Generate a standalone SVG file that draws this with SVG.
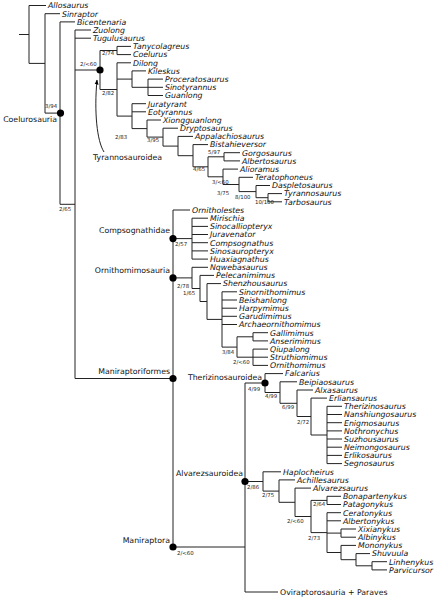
<svg xmlns="http://www.w3.org/2000/svg" width="441" height="599" viewBox="0 0 441 599">
<style>
.b{stroke:#222;stroke-width:1;fill:none}
.t{font-family:"DejaVu Sans",sans-serif;font-size:7.8px;font-style:italic;fill:#111}
.c{font-family:"DejaVu Sans",sans-serif;font-size:7.8px;fill:#111}
.s{font-family:"DejaVu Sans",sans-serif;font-size:5.4px;fill:#222}
.n{fill:#000}
</style>
<defs>
<marker id="ah" viewBox="0 0 10 10" refX="9" refY="5" markerWidth="5" markerHeight="5" orient="auto"><path d="M0,1 L10,5 L0,9 z" fill="#000"/></marker>
</defs>
<rect width="441" height="599" fill="#fff"/>
<g id="connectors" class="b">
<path d="M19 34.5H29M29 5.5V63.4M29 5.5H46M29 63.4H45M45 13.7V113.1M45 13.7H60M45 113.1H60M60 21.9V204.3M60 21.9H75M60 204.3H75M75 30V378.5M75 30H91M75 38.2H91M75 70H100M75 378.5H173"/>
<path d="M100 50.5V89.5M100 50.5H117M117 46.4V54.6M117 46.4H131M117 54.6H131M100 89.5H117M117 62.8V116.1M117 62.8H131M117 79.1H132M132 70.9V87.3M132 70.9H146M132 87.3H148M148 79.1V95.5M148 79.1H163M148 87.3H163M148 95.5H163"/>
<path d="M117 116.1H132M132 103.7V128.6M132 103.7H146M132 111.8H146M132 128.6H147M147 120V137.1M147 120H161M147 137.1H163M163 128.2V146.1M163 128.2H178M163 146.1H178M178 136.4V155.7M178 136.4H193M178 155.7H193M193 144.6V166.8M193 144.6H208M193 166.8H208M208 156.8V176.8M208 156.8H224M224 152.7V160.9M224 152.7H240M224 160.9H240M208 176.8H223M223 169.1V184.5M223 169.1H238M223 184.5H239M239 177.3V191.6M239 177.3H253M239 191.6H256M256 185.5V197.7M256 185.5H270M256 197.7H268M268 193.6V201.8M268 193.6H282M268 201.8H282"/>
<path d="M173 210V547M173 210H190M173 238.6H192M192 218.2V259.1M192 218.2H208M192 226.4H208M192 234.5H208M192 242.7H208M192 250.9H208M192 259.1H208"/>
<path d="M173 277.9H192M192 267.3V288.5M192 267.3H208M192 288.5H200M200 275.4V301.5M200 275.4H214M200 301.5H207M207 283.6V319.4M207 283.6H221M207 319.4H222M222 291.8V347.1M222 291.8H237M222 300H237M222 308.2H237M222 316.3H237M222 324.5H237M222 347.1H237M237 336.8V357.2M237 336.8H253M253 332.7V340.9M253 332.7H268M253 340.9H268M237 357.2H253M253 349.1V365.4M253 349.1H268M253 357.2H268M253 365.4H268"/>
<path d="M173 547H245M245 383V592M245 592H278M245 383H265M265 373.6V392.5M265 373.6H283M265 392.5H280M280 381.8V403.3M280 381.8H297M280 403.3H297M297 390V416.5M297 390H313M297 416.5H311M311 398.1V435M311 398.1H327M311 435H327M327 406.3V463.6M327 406.3H342M327 414.5H342M327 422.7H342M327 430.9H342M327 439H342M327 447.2H342M327 455.4H342M327 463.6H342"/>
<path d="M245 481.5H263M263 471.8V491.1M263 471.8H281M263 491.1H279M279 479.9V502.3M279 479.9H295M279 502.3H295M295 488.1V516.5M295 488.1H311M295 516.5H311M311 500.4V532.6M311 500.4H327M327 496.3V504.5M327 496.3H341M327 504.5H341M311 532.6H327M327 512.7V552.5M327 512.7H341M327 520.8H341M327 533.1H341M341 529V537.2M341 529H356M341 537.2H356M327 552.5H341M341 545.4V559.7M341 545.4H356M341 559.7H356M356 553.6V565.8M356 553.6H370M356 565.8H372M372 561.7V569.9M372 561.7H387M372 569.9H387"/>
<path d="M104 152C97 141 94 112 97 80" marker-end="url(#ah)"/>
</g>
<g id="clades">
<g id="coelurosauria"><circle class="n" cx="60.5" cy="113.1" r="3.6"/><text class="c" x="57" y="122" text-anchor="end">Coelurosauria</text><text class="s" x="45" y="108">3/94</text></g>
<g id="tyrannosauroidea"><circle class="n" cx="100" cy="70" r="3.6"/><text class="c" x="93" y="160">Tyrannosauroidea</text><text class="s" x="80" y="66">2/&lt;60</text></g>
<g id="compsognathidae"><circle class="n" cx="173" cy="238.6" r="3.6"/><text class="c" x="170" y="233" text-anchor="end">Compsognathidae</text><text class="s" x="175" y="246">2/57</text></g>
<g id="ornithomimosauria"><circle class="n" cx="173" cy="277.9" r="3.6"/><text class="c" x="170" y="273" text-anchor="end">Ornithomimosauria</text><text class="s" x="177" y="288">2/78</text></g>
<g id="maniraptoriformes"><circle class="n" cx="173" cy="378.5" r="3.6"/><text class="c" x="170" y="374" text-anchor="end">Maniraptoriformes</text></g>
<g id="therizinosauroidea"><circle class="n" cx="265" cy="383" r="3.6"/><text class="c" x="262" y="380" text-anchor="end">Therizinosauroidea</text><text class="s" x="248" y="391">4/99</text></g>
<g id="alvarezsauroidea"><circle class="n" cx="245" cy="481.5" r="3.6"/><text class="c" x="243" y="476" text-anchor="end">Alvarezsauroidea</text><text class="s" x="247" y="489">2/86</text></g>
<g id="maniraptora"><circle class="n" cx="173" cy="547" r="3.6"/><text class="c" x="170" y="543" text-anchor="end">Maniraptora</text><text class="s" x="177" y="555">2/&lt;60</text></g>
<g id="oviraptorosauria-paraves"><text class="c" x="280" y="595">Oviraptorosauria + Paraves</text></g>
</g>
<g id="support">
<text class="s" x="59" y="211">2/65</text>
<text class="s" x="102" y="55">2/74</text>
<text class="s" x="102" y="95">2/82</text>
<text class="s" x="115" y="139">2/83</text>
<text class="s" x="147" y="142">3/95</text>
<text class="s" x="208" y="154">5/97</text>
<text class="s" x="193" y="171">4/65</text>
<text class="s" x="212" y="184">3/&lt;60</text>
<text class="s" x="217" y="195">3/75</text>
<text class="s" x="235" y="199">8/100</text>
<text class="s" x="255" y="204">10/100</text>
<text class="s" x="183" y="295">1/65</text>
<text class="s" x="222" y="354">3/84</text>
<text class="s" x="233" y="364">2/&lt;60</text>
<text class="s" x="265" y="398">4/99</text>
<text class="s" x="282" y="409">6/99</text>
<text class="s" x="297" y="424">2/72</text>
<text class="s" x="262" y="497">2/75</text>
<text class="s" x="287" y="523">2/&lt;60</text>
<text class="s" x="313" y="506">2/64</text>
<text class="s" x="308" y="540">2/73</text>
</g>
<g id="taxa" class="t">
<text id="allosaurus" x="48" y="8.3">Allosaurus</text>
<text id="sinraptor" x="62" y="16.5">Sinraptor</text>
<text id="bicentenaria" x="77" y="24.7">Bicentenaria</text>
<text id="zuolong" x="93" y="32.8">Zuolong</text>
<text id="tugulusaurus" x="93" y="41">Tugulusaurus</text>
<text id="tanycolagreus" x="133" y="49.2">Tanycolagreus</text>
<text id="coelurus" x="133" y="57.4">Coelurus</text>
<text id="dilong" x="133" y="65.6">Dilong</text>
<text id="kileskus" x="148" y="73.7">Kileskus</text>
<text id="proceratosaurus" x="165" y="81.9">Proceratosaurus</text>
<text id="sinotyrannus" x="165" y="90.1">Sinotyrannus</text>
<text id="guanlong" x="165" y="98.3">Guanlong</text>
<text id="juratyrant" x="148" y="106.5">Juratyrant</text>
<text id="eotyrannus" x="148" y="114.6">Eotyrannus</text>
<text id="xiongguanlong" x="163" y="122.8">Xiongguanlong</text>
<text id="dryptosaurus" x="180" y="131">Dryptosaurus</text>
<text id="appalachiosaurus" x="195" y="139.2">Appalachiosaurus</text>
<text id="bistahieversor" x="210" y="147.4">Bistahieversor</text>
<text id="gorgosaurus" x="242" y="155.5">Gorgosaurus</text>
<text id="albertosaurus" x="242" y="163.7">Albertosaurus</text>
<text id="alioramus" x="240" y="171.9">Alioramus</text>
<text id="teratophoneus" x="255" y="180.1">Teratophoneus</text>
<text id="daspletosaurus" x="272" y="188.3">Daspletosaurus</text>
<text id="tyrannosaurus" x="284" y="196.4">Tyrannosaurus</text>
<text id="tarbosaurus" x="284" y="204.6">Tarbosaurus</text>
<text id="ornitholestes" x="192" y="212.8">Ornitholestes</text>
<text id="mirischia" x="210" y="221">Mirischia</text>
<text id="sinocalliopteryx" x="210" y="229.2">Sinocalliopteryx</text>
<text id="juravenator" x="210" y="237.3">Juravenator</text>
<text id="compsognathus" x="210" y="245.5">Compsognathus</text>
<text id="sinosauropteryx" x="210" y="253.7">Sinosauropteryx</text>
<text id="huaxiagnathus" x="210" y="261.9">Huaxiagnathus</text>
<text id="nqwebasaurus" x="210" y="270.1">Nqwebasaurus</text>
<text id="pelecanimimus" x="216" y="278.2">Pelecanimimus</text>
<text id="shenzhousaurus" x="223" y="286.4">Shenzhousaurus</text>
<text id="sinornithomimus" x="239" y="294.6">Sinornithomimus</text>
<text id="beishanlong" x="239" y="302.8">Beishanlong</text>
<text id="harpymimus" x="239" y="311">Harpymimus</text>
<text id="garudimimus" x="239" y="319.1">Garudimimus</text>
<text id="archaeornithomimus" x="239" y="327.3">Archaeornithomimus</text>
<text id="gallimimus" x="270" y="335.5">Gallimimus</text>
<text id="anserimimus" x="270" y="343.7">Anserimimus</text>
<text id="qiupalong" x="270" y="351.9">Qiupalong</text>
<text id="struthiomimus" x="270" y="360">Struthiomimus</text>
<text id="ornithomimus" x="270" y="368.2">Ornithomimus</text>
<text id="falcarius" x="285" y="376.4">Falcarius</text>
<text id="beipiaosaurus" x="299" y="384.6">Beipiaosaurus</text>
<text id="alxasaurus" x="315" y="392.8">Alxasaurus</text>
<text id="erliansaurus" x="329" y="400.9">Erliansaurus</text>
<text id="therizinosaurus" x="344" y="409.1">Therizinosaurus</text>
<text id="nanshiungosaurus" x="344" y="417.3">Nanshiungosaurus</text>
<text id="enigmosaurus" x="344" y="425.5">Enigmosaurus</text>
<text id="nothronychus" x="344" y="433.7">Nothronychus</text>
<text id="suzhousaurus" x="344" y="441.8">Suzhousaurus</text>
<text id="neimongosaurus" x="344" y="450">Neimongosaurus</text>
<text id="erlikosaurus" x="344" y="458.2">Erlikosaurus</text>
<text id="segnosaurus" x="344" y="466.4">Segnosaurus</text>
<text id="haplocheirus" x="283" y="474.6">Haplocheirus</text>
<text id="achillesaurus" x="297" y="482.7">Achillesaurus</text>
<text id="alvarezsaurus" x="313" y="490.9">Alvarezsaurus</text>
<text id="bonapartenykus" x="343" y="499.1">Bonapartenykus</text>
<text id="patagonykus" x="343" y="507.3">Patagonykus</text>
<text id="ceratonykus" x="343" y="515.5">Ceratonykus</text>
<text id="albertonykus" x="343" y="523.6">Albertonykus</text>
<text id="xixianykus" x="358" y="531.8">Xixianykus</text>
<text id="albinykus" x="358" y="540">Albinykus</text>
<text id="mononykus" x="358" y="548.2">Mononykus</text>
<text id="shuvuula" x="372" y="556.4">Shuvuula</text>
<text id="linhenykus" x="389" y="564.5">Linhenykus</text>
<text id="parvicursor" x="389" y="572.7">Parvicursor</text>
</g>
</svg>
